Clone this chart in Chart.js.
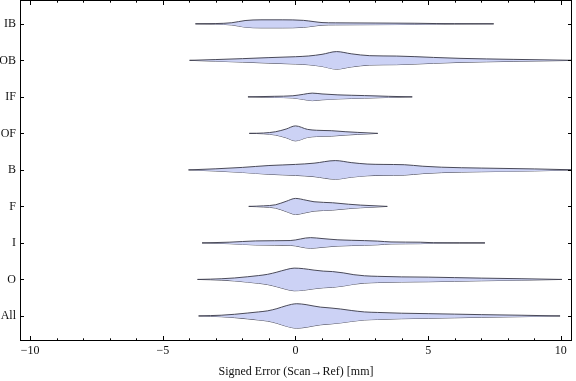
<!DOCTYPE html>
<html>
<head>
<meta charset="utf-8">
<script src="https://cdn.jsdelivr.net/npm/chart.js@4"></script>
<style>
  html, body { margin: 0; padding: 0; background: #fff; }
  #wrap { width: 576px; height: 381px; }
</style>
</head>
<body>
<div id="wrap"><canvas id="chart"></canvas></div>
<script>
// rows from bottom to top
const categories = ['All', 'O', 'I', 'F', 'B', 'OF', 'IF', 'OB', 'IB'];
const xMajor = [-10, -5, 0, 5, 10];
const xMinor = [-10, -9, -8, -7, -6, -5, -4, -3, -2, -1, 0, 1, 2, 3, 4, 5, 6, 7, 8, 9, 10];

// violin outlines: error (mm) and half width (in rows)
const allX = [-3.65, -3.2, -2.8, -2.3, -1.8, -1.4, -1.05, -0.7, -0.35, 0.05, 0.4, 0.7, 0.95, 1.3, 1.7, 2.1, 2.6, 3.1, 4.0, 5.0, 6.0, 7.0, 8.5, 9.97];
const allW = [0, 0.01, 0.02, 0.045, 0.08, 0.11, 0.14, 0.2, 0.28, 0.335, 0.31, 0.27, 0.241, 0.22, 0.19, 0.15, 0.11, 0.096, 0.075, 0.063, 0.05, 0.036, 0.02, 0];

const oX = [-3.69, -3.2, -2.8, -2.3, -1.8, -1.4, -1.05, -0.7, -0.35, -0.05, 0.3, 0.7, 1.05, 1.4, 1.8, 2.2, 2.6, 3.1, 4.0, 5.0, 6.0, 7.0, 8.5, 10.04];
const oW = [0, 0.008, 0.018, 0.04, 0.074, 0.105, 0.14, 0.2, 0.27, 0.31, 0.295, 0.255, 0.228, 0.215, 0.18, 0.13, 0.1, 0.085, 0.07, 0.063, 0.05, 0.036, 0.02, 0];

const iX = [-3.52, -2.5, -1.5, -0.8, -0.2, 0.57, 1.0, 1.6, 2.6, 3.1, 3.6, 4.7, 5.2, 7.14];
const iW = [0, 0.02, 0.055, 0.06, 0.065, 0.145, 0.12, 0.085, 0.063, 0.05, 0.027, 0.02, 0.006, 0];

const fX = [-1.76, -1.2, -0.75, -0.35, 0.0, 0.4, 0.7, 1.4, 2.0, 2.45, 3.46];
const fW = [0, 0.015, 0.045, 0.14, 0.219, 0.17, 0.128, 0.1, 0.06, 0.036, 0];

const bX = [-4.03, -3.0, -2.0, -1.0, 0.0, 0.7, 1.5, 2.1, 2.7, 3.3, 4.1, 4.8, 5.5, 7.0, 9.0, 10.6];
const bW = [0, 0.03, 0.068, 0.12, 0.15, 0.184, 0.255, 0.2, 0.16, 0.15, 0.142, 0.1, 0.074, 0.05, 0.027, 0];

const ofX = [-1.74, -1.2, -0.75, -0.35, 0.0, 0.45, 0.8, 1.35, 1.9, 2.35, 3.1];
const ofW = [0, 0.01, 0.045, 0.12, 0.205, 0.11, 0.085, 0.074, 0.045, 0.027, 0];

const ifX = [-1.79, -0.8, -0.1, 0.3, 0.63, 1.0, 1.6, 2.6, 3.5, 4.4];
const ifW = [0, 0.015, 0.03, 0.07, 0.103, 0.08, 0.055, 0.035, 0.015, 0];

const obX = [-3.99, -3.0, -2.0, -1.0, 0.0, 0.5, 1.0, 1.55, 2.1, 2.8, 3.8, 5.2, 6.2, 8.2, 10.6];
const obW = [0, 0.022, 0.047, 0.075, 0.1, 0.12, 0.165, 0.24, 0.18, 0.128, 0.118, 0.08, 0.055, 0.027, 0];

const ibX = [-3.77, -3.0, -2.4, -1.9, -1.3, -0.5, 0.3, 0.7, 1.0, 1.5, 3.0, 4.5, 5.3, 6.0, 7.47];
const ibW = [0, 0.008, 0.03, 0.09, 0.11, 0.11, 0.095, 0.06, 0.035, 0.027, 0.022, 0.016, 0.008, 0.005, 0];

const violins = [
  [allX, allW], [oX, oW], [iX, iW], [fX, fW], [bX, bW],
  [ofX, ofW], [ifX, ifW], [obX, obW], [ibX, ibW]
];

const serif = "'Liberation Serif', 'Times New Roman', serif";
const fillColor = 'rgb(204, 210, 245)';
const edgeColor = 'rgba(65, 65, 80, 0.95)';

const datasets = [];
violins.forEach(([xs, ws], i) => {
  const common = {
    borderColor: edgeColor,
    borderWidth: 1,
    pointRadius: 0,
    cubicInterpolationMode: 'monotone'
  };
  datasets.push(Object.assign({
    data: xs.map((x, k) => ({ x: x, y: i + ws[k] })),
    fill: '+1',
    backgroundColor: fillColor
  }, common));
  datasets.push(Object.assign({
    data: xs.map((x, k) => ({ x: x, y: i - ws[k] })),
    fill: false
  }, common));
});

// frame with inward ticks, like the original
const frame = {
  id: 'frame',
  afterDraw(chart) {
    const { ctx, chartArea: a, scales: { x, y } } = chart;
    ctx.save();
    ctx.strokeStyle = '#000';
    ctx.lineWidth = 1;
    ctx.strokeRect(a.left + 0.5, a.top + 0.5, a.width - 1, a.height - 1);
    ctx.beginPath();
    xMinor.forEach(v => {
      const px = Math.round(x.getPixelForValue(v)) + 0.5;
      const len = xMajor.includes(v) ? 5 : 2.7;
      ctx.moveTo(px, a.bottom); ctx.lineTo(px, a.bottom - len);
      ctx.moveTo(px, a.top); ctx.lineTo(px, a.top + len);
    });
    categories.forEach((c, i) => {
      const py = Math.round(y.getPixelForValue(i)) + 0.5;
      ctx.moveTo(a.left, py); ctx.lineTo(a.left + 4, py);
      ctx.moveTo(a.right, py); ctx.lineTo(a.right - 4, py);
    });
    ctx.stroke();
    ctx.restore();
  }
};

const chart = new Chart(document.getElementById('chart'), {
  type: 'line',
  data: { datasets: datasets },
  options: {
    responsive: true,
    maintainAspectRatio: false,
    animation: false,
    devicePixelRatio: 1,
    layout: { padding: { top: 0, right: 4, bottom: 0, left: 0 } },
    plugins: { legend: { display: false }, tooltip: { enabled: false } },
    scales: {
      x: {
        type: 'linear',
        min: -10.38,
        max: 10.42,
        afterBuildTicks: s => { s.ticks = xMajor.map(v => ({ value: v })); },
        afterFit: s => { s.height = 40; s.paddingLeft = 0; s.paddingRight = 0; },
        grid: { display: false, drawTicks: false },
        border: { display: false },
        ticks: {
          padding: 3,
          color: '#111',
          font: { family: serif, size: 12 },
          maxRotation: 0,
          autoSkip: false,
          callback: v => v < 0 ? '\u2212' + Math.abs(v) : String(v)
        },
        title: {
          display: true,
          text: 'Signed Error (Scan\u2192Ref) [mm]',
          color: '#111',
          font: { family: serif, size: 12 },
          padding: { top: 0, bottom: 2 }
        }
      },
      y: {
        type: 'linear',
        min: -0.686,
        max: 8.653,
        afterBuildTicks: s => { s.ticks = categories.map((c, i) => ({ value: i })); },
        afterFit: s => { s.width = 20; s.paddingTop = 0; s.paddingBottom = 0; },
        grid: { display: false, drawTicks: false },
        border: { display: false },
        ticks: {
          padding: 4,
          color: '#111',
          font: { family: serif, size: 12 },
          autoSkip: false,
          callback: v => categories[v]
        }
      }
    }
  },
  plugins: [frame]
});
</script>
</body>
</html>
